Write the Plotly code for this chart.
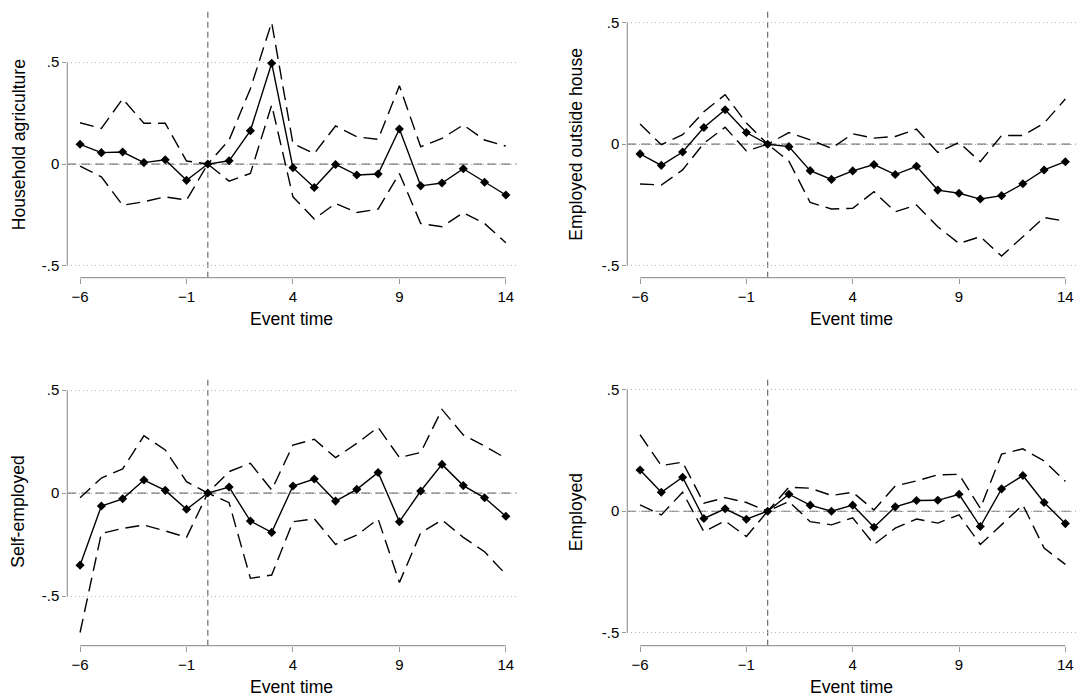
import plotly.graph_objects as go

# ---------------- data ----------------
event_time = list(range(-6, 15))
x_tick_vals = [-6, -1, 4, 9, 14]
y_tick_vals = [-0.5, 0, 0.5]
y_tick_text = ["-.5", "0", ".5"]
x_title = "Event time"

titles = ["Household agriculture", "Employed outside house", "Self-employed", "Employed"]

agri_est = [0.097, 0.056, 0.059, 0.007, 0.021, -0.080, 0.0, 0.016, 0.164, 0.495, -0.018,
            -0.115, -0.002, -0.054, -0.049, 0.172, -0.107, -0.093, -0.023, -0.089, -0.152]
agri_hi = [0.203, 0.175, 0.320, 0.200, 0.200, 0.015, 0.0, 0.118, 0.370, 0.695, 0.100,
           0.052, 0.187, 0.134, 0.121, 0.384, 0.085, 0.126, 0.192, 0.118, 0.088]
agri_lo = [-0.010, -0.063, -0.202, -0.185, -0.161, -0.177, 0.0, -0.084, -0.046, 0.290, -0.161,
           -0.270, -0.193, -0.238, -0.221, -0.046, -0.292, -0.308, -0.239, -0.292, -0.386]

outside_est = [-0.040, -0.087, -0.032, 0.069, 0.142, 0.048, 0.0, -0.010, -0.109, -0.145, -0.110,
               -0.084, -0.125, -0.091, -0.189, -0.202, -0.226, -0.212, -0.163, -0.106, -0.072]
outside_hi = [0.083, -0.002, 0.039, 0.134, 0.204, 0.087, 0.0, 0.048, 0.018, -0.017, 0.043,
              0.025, 0.032, 0.062, -0.034, 0.007, -0.072, 0.036, 0.036, 0.087, 0.186]
outside_lo = [-0.164, -0.168, -0.106, 0.004, 0.070, -0.028, 0.0, -0.070, -0.240, -0.267, -0.264,
              -0.196, -0.278, -0.251, -0.340, -0.409, -0.381, -0.461, -0.381, -0.302, -0.317]

self_est = [-0.350, -0.063, -0.028, 0.063, 0.013, -0.079, 0.0, 0.029, -0.136, -0.191, 0.034,
            0.068, -0.039, 0.018, 0.100, -0.139, 0.010, 0.139, 0.036, -0.023, -0.113]
self_hi = [-0.023, 0.073, 0.117, 0.278, 0.209, 0.055, 0.0, 0.104, 0.144, 0.015, 0.233,
           0.261, 0.172, 0.241, 0.319, 0.172, 0.197, 0.406, 0.282, 0.228, 0.169]
self_lo = [-0.677, -0.196, -0.172, -0.155, -0.184, -0.215, 0.0, -0.047, -0.414, -0.398, -0.139,
           -0.125, -0.249, -0.204, -0.126, -0.434, -0.193, -0.131, -0.215, -0.285, -0.395]

emp_est = [0.170, 0.078, 0.140, -0.030, 0.010, -0.033, 0.0, 0.070, 0.025, 0.0, 0.025,
           -0.066, 0.018, 0.044, 0.045, 0.070, -0.063, 0.092, 0.147, 0.036, -0.051]
emp_hi = [0.315, 0.188, 0.202, 0.033, 0.056, 0.036, 0.0, 0.099, 0.095, 0.065, 0.078,
          0.005, 0.104, 0.125, 0.150, 0.152, 0.012, 0.235, 0.257, 0.207, 0.123]
emp_lo = [0.026, -0.015, 0.078, -0.084, -0.040, -0.104, 0.0, 0.040, -0.043, -0.056, -0.027,
          -0.137, -0.070, -0.032, -0.049, -0.015, -0.137, -0.056, 0.026, -0.152, -0.219]

series = [
    (agri_est, agri_hi, agri_lo),
    (outside_est, outside_hi, outside_lo),
    (self_est, self_hi, self_lo),
    (emp_est, emp_hi, emp_lo),
]

# ---------------- layout (pixels) ----------------
W, H = 1076, 696
FONT = "Liberation Sans, Arial, Helvetica, sans-serif"
AXIS_GREY = "#9a9a9a"
REF_GREY = "#6e6e6e"
GRID_GREY = "#b4b4b4"

# panel geometry: (x_left_px, x_right_px, y_top_px, y_bottom_px, y_range, ytitle_x_px, xtitle_y_px)
panels = [
    (67.3, 516.5, 11.7, 277.7, [-0.558, 0.748], 18.5, 319.3),
    (627.3, 1076.0, 11.7, 277.7, [-0.550, 0.546], 576.0, 319.3),
    (67.3, 516.5, 378.7, 645.7, [-0.741, 0.555], 18.5, 686.7),
    (627.3, 1076.0, 378.7, 645.7, [-0.554, 0.546], 576.0, 686.7),
]
x_range = [-6.6, 14.5]

fig = go.Figure()
shapes = []
annotations = []

for i, ((est, hi, lo), geo) in enumerate(zip(series, panels)):
    xl, xr, yt, yb, yr, ytx, xty = geo
    n = "" if i == 0 else str(i + 1)
    xa, ya = "x" + n, "y" + n
    xkey, ykey = "xaxis" + n, "yaxis" + n

    for ci in (hi, lo):
        fig.add_trace(go.Scatter(
            x=event_time, y=ci, xaxis=xa, yaxis=ya, mode="lines",
            line=dict(color="black", width=1.4, dash="14px,7px"),
            showlegend=False, hoverinfo="skip"))
    fig.add_trace(go.Scatter(
        x=event_time, y=est, xaxis=xa, yaxis=ya, mode="lines+markers",
        line=dict(color="black", width=1.4),
        marker=dict(symbol="diamond", size=7, color="black"),
        showlegend=False))

    fig.layout[xkey] = dict(
        domain=[xl / W, xr / W], anchor=ya, range=x_range,
        tickmode="array", tickvals=x_tick_vals, ticks="outside", ticklen=5,
        tickwidth=1, tickcolor=AXIS_GREY, showgrid=False, zeroline=False,
        showline=False, tickfont=dict(family=FONT, size=15, color="black"))
    fig.layout[ykey] = dict(
        domain=[1 - yb / H, 1 - yt / H], anchor=xa, range=yr,
        tickmode="array", tickvals=y_tick_vals, ticktext=y_tick_text,
        ticks="outside", ticklen=4, tickwidth=1, tickcolor=AXIS_GREY,
        showgrid=True, gridcolor=GRID_GREY, griddash="1px,3px", gridwidth=1,
        zeroline=False, showline=False,
        tickfont=dict(family=FONT, size=15, color="black"))

    # axis lines (Stata style: each line spans only its tick range)
    shapes.append(dict(type="line", xref=xa + " domain", yref=ya, x0=0, x1=0,
                       y0=y_tick_vals[0], y1=y_tick_vals[-1],
                       line=dict(color=AXIS_GREY, width=1.2)))
    shapes.append(dict(type="line", xref=xa, yref=ya + " domain", y0=0, y1=0,
                       x0=x_tick_vals[0], x1=x_tick_vals[-1],
                       line=dict(color=AXIS_GREY, width=1.2)))
    # reference lines at event time 0 and at zero effect
    shapes.append(dict(type="line", xref=xa, yref=ya + " domain", x0=0, x1=0, y0=0, y1=1,
                       line=dict(color=REF_GREY, width=1.2, dash="6px,4px"), layer="below"))
    shapes.append(dict(type="line", xref=xa + " domain", yref=ya, x0=0, x1=1, y0=0, y1=0,
                       line=dict(color=REF_GREY, width=1.2, dash="9px,5px"), layer="below"))

    annotations.append(dict(text=titles[i], xref="paper", yref="paper",
                            x=ytx / W, y=1 - (yt + yb) / 2 / H, textangle=-90,
                            showarrow=False, xanchor="center", yanchor="middle",
                            font=dict(family=FONT, size=17.6, color="black")))
    annotations.append(dict(text=x_title, xref="paper", yref="paper",
                            x=(xl + xr) / 2 / W, y=1 - xty / H,
                            showarrow=False, xanchor="center", yanchor="middle",
                            font=dict(family=FONT, size=17.6, color="black")))

fig.update_layout(
    width=W, height=H, margin=dict(l=0, r=0, t=0, b=0),
    paper_bgcolor="white", plot_bgcolor="white",
    shapes=shapes, annotations=annotations, showlegend=False,
)

fig.write_html("out.html")
